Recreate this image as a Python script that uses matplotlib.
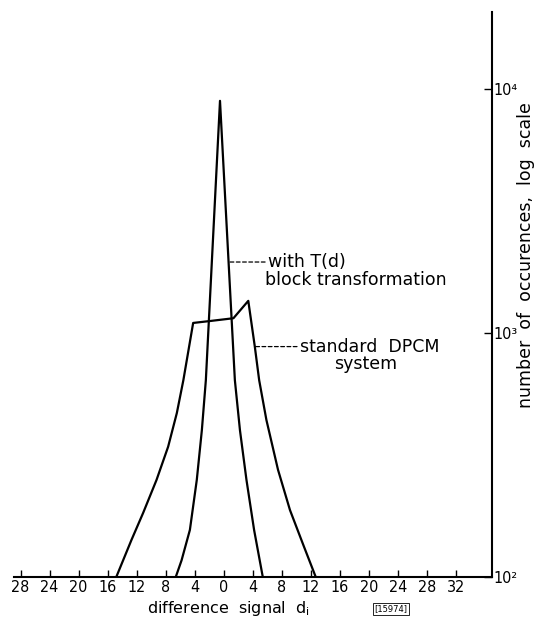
import matplotlib
matplotlib.use("Agg")
import matplotlib.pyplot as plt
from matplotlib.ticker import FixedLocator, FixedFormatter, NullLocator

NARROW = ['DejaVu Sans Condensed', 'Liberation Sans Narrow', 'DejaVu Sans']
plt.rcParams['font.family'] = ['DejaVu Sans']

# --- data ---
# with T(d) block transformation
d_block = [-6.6, -5.8, -4.65, -3.7, -3.0, -2.45, -0.5, 1.55, 2.25, 3.15, 4.2, 5.4]
n_block = [100, 117, 156, 250, 400, 641, 8950, 641, 400, 250, 156, 100]

# standard DPCM system
d_dpcm = [-14.8, -12.7, -11.1, -9.25, -7.65, -6.45, -5.55, -4.2, -1.9, 1.35, 3.4, 4.3, 4.9, 5.9, 7.5, 9.15, 11.0, 12.7]
n_dpcm = [100, 142, 183, 250, 342, 470, 641, 1100, 1120, 1150, 1355, 880, 641, 440, 275, 188, 135, 100]

x_ticks = [-28, -24, -20, -16, -12, -8, -4, 0, 4, 8, 12, 16, 20, 24, 28, 32]
x_tick_labels = ['28', '24', '20', '16', '12', '8', '4', '0', '4', '8', '12', '16', '20', '24', '28', '32']
y_ticks = [100, 1000, 10000]
y_tick_labels = ['10\u00b2', '10\u00b3', '10\u2074']

fig = plt.figure(figsize=(5.34, 6.18), dpi=100)
ax = fig.add_axes([14/534, 1 - 577/618, (492 - 14)/534, (577 - 12)/618])

ax.plot(d_block, n_block, color='black', lw=1.6, solid_joinstyle='round')
ax.plot(d_dpcm, n_dpcm, color='black', lw=1.6, solid_joinstyle='round')

ax.set_yscale('log')
ax.set_xlim(-28.9, 37.0)
ax.set_ylim(100, 10 ** 4.316)

for s in ['top', 'left']:
    ax.spines[s].set_visible(False)
ax.spines['bottom'].set_linewidth(1.5)
ax.spines['right'].set_linewidth(1.5)

ax.xaxis.set_major_locator(FixedLocator(x_ticks))
ax.xaxis.set_major_formatter(FixedFormatter(x_tick_labels))
ax.tick_params(axis='x', direction='in', length=5, width=1.0, pad=2, labelsize=11.5)
for t in ax.get_xticklabels():
    t.set_family(NARROW)
    t.set_fontstretch('condensed')

ax.yaxis.tick_right()
ax.yaxis.set_major_locator(FixedLocator(y_ticks))
ax.yaxis.set_major_formatter(FixedFormatter(y_tick_labels))
ax.yaxis.set_minor_locator(NullLocator())
ax.tick_params(axis='y', direction='in', length=6, width=1.0, pad=1, labelsize=11.5)
for t in ax.get_yticklabels():
    t.set_family(NARROW)
    t.set_fontstretch('condensed')

fig.text(228/534, 1 - 609/618, r'difference  signal  d$_\mathrm{i}$', fontsize=11.5,
         ha='center', va='center')
fig.text(526/534, 1 - 255/618, 'number  of  occurences,  log  scale', fontsize=12.5,
         rotation=90, ha='center', va='center')

# annotations
ax.annotate('with T(d)', xy=(0.7, 1955), xytext=(6.1, 1955),
            fontsize=12.5, va='center', ha='left',
            arrowprops=dict(arrowstyle='-', linestyle=(0, (3, 2)), lw=0.9,
                            color='black', shrinkA=0, shrinkB=0))
ax.text(5.7, 1650, 'block transformation', fontsize=12.5, va='center', ha='left')
ax.annotate('standard  DPCM', xy=(4.39, 880), xytext=(10.5, 880),
            fontsize=12.5, va='center', ha='left',
            arrowprops=dict(arrowstyle='-', linestyle=(0, (3, 2)), lw=0.9,
                            color='black', shrinkA=0, shrinkB=0))
ax.text(19.6, 745, 'system', fontsize=12.5, va='center', ha='center')

fig.text(391/534, 1 - 609/618, '[15974]', fontsize=6, ha='center', va='center',
         bbox=dict(boxstyle='square,pad=0.15', fc='white', ec='black', lw=0.6))

fig.savefig('out.png', dpi=100)
